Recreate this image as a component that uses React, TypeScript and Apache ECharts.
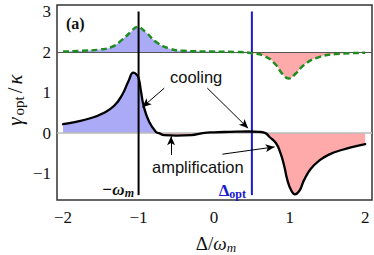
import React, { useEffect, useRef } from "react";
import * as echarts from "echarts";

// ---------- data ----------
const xTicks = [-2, -1, 0, 1, 2];
const yTicks = [-1, 0, 1, 2, 3];

// main optical damping curve (black)
const mainX = [-2.0, -1.83, -1.65, -1.47, -1.32, -1.21, -1.13, -1.07, -1.03, -1.0, -0.97, -0.93, -0.86, -0.77, -0.66, -0.5, -0.3, -0.15, 0.0, 0.2, 0.46, 0.6, 0.68, 0.73, 0.82, 0.88, 0.93, 0.97, 1.02, 1.07, 1.13, 1.19, 1.28, 1.39, 1.52, 1.7, 1.88, 2.0];
const mainY = [0.22, 0.28, 0.36, 0.49, 0.68, 0.97, 1.3, 1.49, 1.45, 1.36, 1.05, 0.65, 0.28, 0.03, -0.05, -0.06, -0.05, 0.0, 0.02, 0.03, 0.04, 0.03, 0.0, -0.09, -0.25, -0.5, -0.83, -1.16, -1.41, -1.51, -1.42, -1.16, -0.88, -0.68, -0.53, -0.41, -0.32, -0.27];

// upper curve (green dashed), offset around 2
const upperX = [-2.0, -1.75, -1.52, -1.35, -1.22, -1.1, -1.02, -0.9, -0.77, -0.6, -0.4, -0.03, 0.3, 0.5, 0.68, 0.82, 0.9, 0.99, 1.08, 1.19, 1.35, 1.61, 2.0];
const upperY = [2.01, 2.03, 2.06, 2.13, 2.3, 2.5, 2.62, 2.48, 2.25, 2.09, 2.03, 2.01, 2.0, 1.97, 1.89, 1.68, 1.47, 1.35, 1.47, 1.68, 1.85, 1.95, 1.98];
const upperBase = 2;
const mainBase = 0;

// vertical markers
const omegaX = -1;
const deltaOptX = 0.5;
const markerSpan = [-1.53, 3.0];

// arrows: [x1, y1, x2, y2] in data units
const arrows = [
  [-0.66, 1.11, -0.95, 0.64],
  [-0.09, 1.11, 0.45, 0.12],
  [-0.57, -0.54, -0.57, -0.08],
  [0.11, -0.52, 0.8, -0.34],
];

// ---------- helpers ----------
function withCrossings(xs: number[], ys: number[], base: number): number[][] {
  const pts: number[][] = [];
  for (let i = 0; i < xs.length; i++) {
    if (i > 0) {
      const a = ys[i - 1] - base;
      const b = ys[i] - base;
      if (a * b < 0) {
        const t = a / (a - b);
        pts.push([xs[i - 1] + t * (xs[i] - xs[i - 1]), base]);
      }
    }
    pts.push([xs[i], ys[i]]);
  }
  return pts;
}

const BLUE_FILL = "#aaaaf7";
const PINK_FILL = "#ffaaaa";
const SMOOTH = 0.5;
const SERIF = "Liberation Serif";
const SANS = "Liberation Sans";

export default function App() {
  const ref = useRef<HTMLDivElement>(null);

  useEffect(() => {
    document.body.style.margin = "0";
    if (!ref.current) return;
    const chart = echarts.init(ref.current, undefined, { renderer: "svg" });

    const mainPts = withCrossings(mainX, mainY, mainBase);
    const upperPts = withCrossings(upperX, upperY, upperBase);
    const clampHi = (pts: number[][], b: number) => pts.map(([x, y]) => [x, Math.max(y, b)]);
    const clampLo = (pts: number[][], b: number) => pts.map(([x, y]) => [x, Math.min(y, b)]);

    const fill = (data: number[][], color: string, origin: number) => ({
      type: "line",
      data,
      smooth: SMOOTH,
      showSymbol: false,
      symbol: "none",
      silent: true,
      lineStyle: { width: 0, opacity: 0 },
      areaStyle: { color, opacity: 1, origin },
      z: 1,
    });

    const label = {
      formatter: (v: number) => "{t|" + (v < 0 ? "\u2212" + Math.abs(v) : String(v)) + "}",
      rich: { t: { fontFamily: SERIF, fontSize: 17, color: "#111" } },
    };

    const option: any = {
      animation: false,
      grid: {
        left: 57,
        top: 5,
        right: 2,
        bottom: 55,
        show: true,
        borderColor: "#333",
        borderWidth: 1.5,
        backgroundColor: "transparent",
      },
      xAxis: {
        type: "value",
        min: -2.08,
        max: 2.09,
        axisLine: { show: false },
        axisTick: { show: false },
        splitLine: { show: false },
        axisLabel: { ...label, customValues: xTicks, margin: 9 },
      },
      yAxis: {
        type: "value",
        min: -1.65,
        max: 3.16,
        axisLine: { show: false },
        axisTick: { show: false },
        splitLine: { show: false },
        axisLabel: { ...label, customValues: yTicks, margin: 6 },
      },
      series: [
        fill(clampHi(upperPts, upperBase), BLUE_FILL, upperBase),
        fill(clampLo(upperPts, upperBase), PINK_FILL, upperBase),
        fill(clampHi(mainPts, mainBase), BLUE_FILL, mainBase),
        {
          ...fill(clampLo(mainPts, mainBase), PINK_FILL, mainBase),
          markLine: {
            silent: true,
            symbol: "none",
            label: { show: false },
            z: 2,
            data: [
              { yAxis: mainBase, lineStyle: { color: "#bbbbbb", width: 1.5, type: "solid" } },
              { yAxis: upperBase, lineStyle: { color: "#555555", width: 1.2, type: "solid" } },
            ],
          },
        },
        {
          type: "line",
          data: [[omegaX, markerSpan[0]], [omegaX, markerSpan[1]]],
          showSymbol: false,
          symbol: "none",
          lineStyle: { color: "#000", width: 2 },
          z: 3,
        },
        {
          type: "line",
          data: [[deltaOptX, markerSpan[0]], [deltaOptX, markerSpan[1]]],
          showSymbol: false,
          symbol: "none",
          lineStyle: { color: "#1a1ad0", width: 2 },
          z: 3,
        },
        {
          type: "line",
          data: mainPts,
          smooth: SMOOTH,
          showSymbol: false,
          symbol: "none",
          lineStyle: { color: "#000", width: 2.3, join: "round", cap: "round" },
          z: 4,
        },
        {
          type: "line",
          data: upperPts,
          smooth: SMOOTH,
          showSymbol: false,
          symbol: "none",
          lineStyle: { color: "#1f8c1f", width: 2.5, type: [6, 3.5] },
          z: 4,
          markLine: {
            silent: true,
            symbol: ["none", "arrow"],
            symbolSize: [6, 9],
            label: { show: false },
            lineStyle: { color: "#000", width: 1, type: "solid" },
            data: arrows.map((a) => [{ coord: [a[0], a[1]] }, { coord: [a[2], a[3]] }]),
          },
        },
      ],
      graphic: [
        {
          type: "text",
          x: 66,
          y: 23,
          style: {
            text: "{t|(a)}",
            verticalAlign: "middle",
            rich: { t: { fontFamily: SERIF, fontSize: 16, fontWeight: "bold", fill: "#111" } },
          },
        },
        {
          type: "text",
          x: 170,
          y: 77,
          style: { text: "cooling", fontFamily: SANS, fontSize: 16.5, fill: "#111", verticalAlign: "middle" },
        },
        {
          type: "text",
          x: 152,
          y: 167,
          style: { text: "amplification", fontFamily: SANS, fontSize: 16.5, fill: "#111", verticalAlign: "middle" },
        },
        {
          type: "text",
          x: 134,
          y: 189,
          style: {
            text: "{a|\u2212\u03C9}{b|m}",
            align: "right",
            verticalAlign: "middle",
            rich: {
              a: { fontFamily: SERIF, fontSize: 17, fontStyle: "italic", fontWeight: "bold", fill: "#111", lineHeight: 20 },
              b: { fontFamily: SERIF, fontSize: 12, fontStyle: "italic", fontWeight: "bold", fill: "#111", lineHeight: 12, verticalAlign: "bottom" },
            },
          },
        },
        {
          type: "text",
          x: 246,
          y: 190,
          style: {
            text: "{a|\u0394}{b|opt}",
            align: "right",
            verticalAlign: "middle",
            rich: {
              a: { fontFamily: SERIF, fontSize: 17, fontWeight: "bold", fill: "#1a1ad0", lineHeight: 20 },
              b: { fontFamily: SERIF, fontSize: 12, fontWeight: "bold", fill: "#1a1ad0", lineHeight: 12, verticalAlign: "bottom" },
            },
          },
        },
        {
          type: "text",
          x: 216,
          y: 243,
          style: {
            text: "{a|\u0394/}{w|\u03C9}{b|m}",
            align: "center",
            verticalAlign: "middle",
            rich: {
              a: { fontFamily: SERIF, fontSize: 19, fill: "#111", lineHeight: 22 },
              w: { fontFamily: SERIF, fontSize: 19, fontStyle: "italic", fill: "#111", lineHeight: 22 },
              b: { fontFamily: SERIF, fontSize: 13, fontStyle: "italic", fill: "#111", lineHeight: 13, verticalAlign: "bottom" },
            },
          },
        },
        {
          type: "text",
          x: 15,
          y: 100,
          rotation: Math.PI / 2,
          style: {
            text: "{g|\u03B3}{s|opt}{l|/}{k|\u03BA}",
            align: "center",
            verticalAlign: "middle",
            rich: {
              g: { fontFamily: SERIF, fontSize: 21, fontStyle: "italic", fill: "#111", lineHeight: 22, padding: [0, 2, 0, 0] },
              s: { fontFamily: SERIF, fontSize: 15, fill: "#111", lineHeight: 14, verticalAlign: "bottom", padding: [0, 3, 0, 0] },
              l: { fontFamily: SERIF, fontSize: 21, fill: "#111", lineHeight: 22, padding: [0, 3, 0, 0] },
              k: { fontFamily: SERIF, fontSize: 21, fontStyle: "italic", fill: "#111", lineHeight: 22 },
            },
          },
        },
      ],
    };

    chart.setOption(option);
    return () => chart.dispose();
  }, []);

  return <div ref={ref} style={{ width: 374, height: 255 }} />;
}
